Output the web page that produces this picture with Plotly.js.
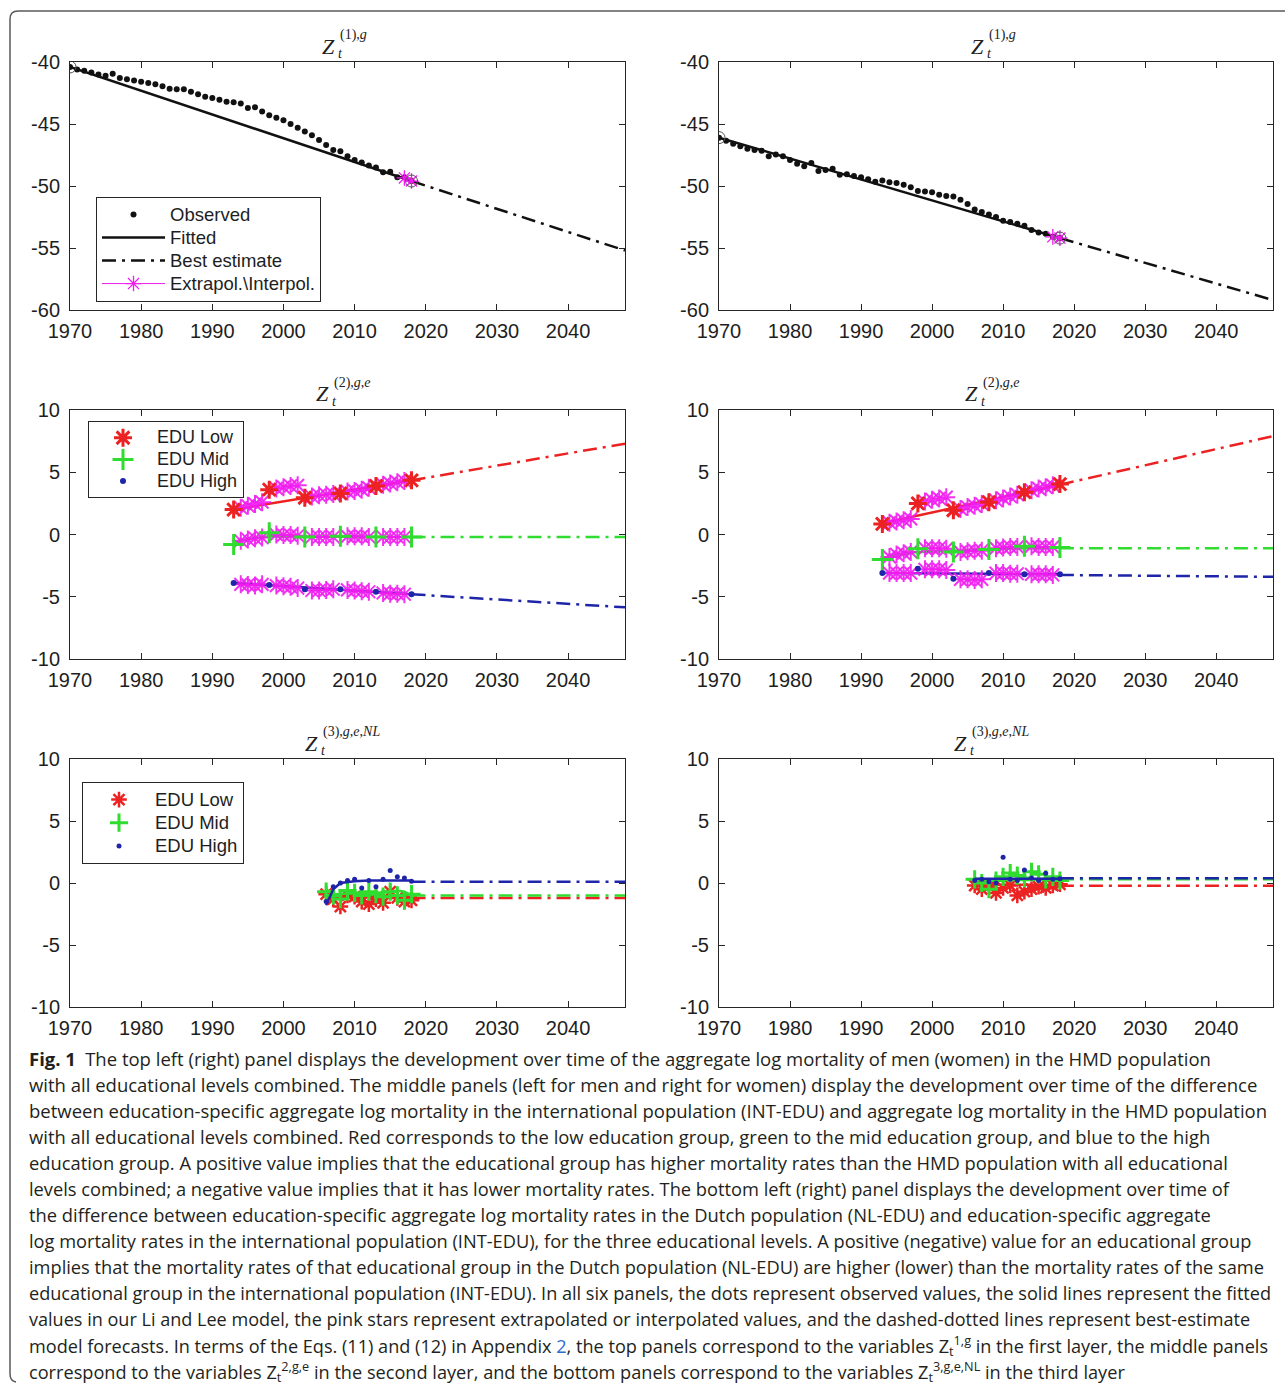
<!DOCTYPE html>
<html><head><meta charset="utf-8">
<script src="https://cdn.plot.ly/plotly-3.0.1.min.js"></script>
<style>html,body{margin:0;padding:0;background:#fff;} #chart{width:1285px;height:1395px;}</style>
</head><body><div id="chart"></div>
<script>
// ---------------- DATA ----------------
const yearsTop = [1970,1971,1972,1973,1974,1975,1976,1977,1978,1979,1980,1981,1982,1983,1984,1985,1986,1987,1988,1989,1990,1991,1992,1993,1994,1995,1996,1997,1998,1999,2000,2001,2002,2003,2004,2005,2006,2007,2008,2009,2010,2011,2012,2013,2014,2015,2016,2017,2018];
const menObserved = [-40.4,-40.6,-40.7,-40.85,-41.0,-41.1,-40.95,-41.3,-41.4,-41.5,-41.6,-41.7,-41.8,-41.95,-42.15,-42.2,-42.2,-42.4,-42.6,-42.8,-42.9,-43.05,-43.2,-43.25,-43.35,-43.7,-43.65,-44.0,-44.3,-44.5,-44.7,-45.0,-45.3,-45.6,-45.9,-46.3,-46.7,-47.1,-47.2,-47.6,-47.9,-48.1,-48.35,-48.5,-48.9,-48.85,-49.3,-49.3,-49.6];
const womenObserved = [-46.1,-46.35,-46.6,-46.8,-47.0,-47.1,-47.15,-47.6,-47.45,-47.6,-47.9,-48.2,-48.4,-48.15,-48.8,-48.7,-48.6,-49.1,-49.05,-49.2,-49.3,-49.45,-49.65,-49.55,-49.7,-49.75,-49.9,-50.1,-50.4,-50.45,-50.5,-50.7,-50.8,-50.85,-51.1,-51.45,-51.9,-52.1,-52.3,-52.5,-52.8,-52.9,-53.05,-53.2,-53.55,-53.75,-53.85,-54.1,-54.2];
const fitYearsTop = [1970, 2018];
const menFitted = [-40.4, -49.6];
const womenFitted = [-46.1, -54.2];
const bestYears = [2018, 2048];
const menBest = [-49.6, -55.2];
const womenBest = [-54.2, -59.2];
const extrapYearsTop = [2017, 2018];
const menExtrap = [-49.35, -49.6];
const womenExtrap = [-54.1, -54.2];
const anchorYears = [1970, 2018];
const menAnchor = [-40.4, -49.6];
const womenAnchor = [-46.1, -54.2];

// middle layer (Z2): observed every 5 years, interpolated in between
const obsYearsMid = [1993,1998,2003,2008,2013,2018];
const interpYearsMid = [1994,1995,1996,1997,1999,2000,2001,2002,2004,2005,2006,2007,2009,2010,2011,2012,2014,2015,2016,2017];
const menLowObs = [2.0,3.6,2.95,3.3,3.9,4.35];
const menLowInterp = [2.15,2.3,2.45,2.6,3.7,3.8,3.9,3.95,3.05,3.15,3.2,3.25,3.45,3.5,3.6,3.75,4.0,4.1,4.2,4.3];
const menMidObs = [-0.8,0.15,-0.2,-0.15,-0.2,-0.2];
const menMidInterp = [-0.5,-0.4,-0.3,-0.25,0.0,-0.05,-0.05,-0.1,-0.2,-0.2,-0.2,-0.2,-0.15,-0.15,-0.15,-0.2,-0.2,-0.2,-0.2,-0.2];
const menHighObs = [-3.9,-4.05,-4.4,-4.4,-4.6,-4.8];
const menHighInterp = [-4.0,-4.05,-4.1,-4.0,-4.1,-4.15,-4.2,-4.3,-4.5,-4.5,-4.45,-4.4,-4.45,-4.5,-4.55,-4.6,-4.7,-4.75,-4.75,-4.8];
const womenLowObs = [0.85,2.5,1.95,2.6,3.4,4.05];
const womenLowInterp = [0.95,1.05,1.15,1.25,2.65,2.8,2.9,3.0,2.05,2.2,2.3,2.45,2.75,2.9,3.05,3.2,3.55,3.7,3.8,3.95];
const womenMidObs = [-2.0,-1.15,-1.4,-1.2,-0.95,-1.05];
const womenMidInterp = [-1.8,-1.6,-1.5,-1.4,-1.1,-1.1,-1.1,-1.15,-1.4,-1.35,-1.3,-1.3,-1.1,-1.05,-1.0,-1.0,-0.95,-1.0,-1.0,-1.0];
const womenHighObs = [-3.1,-2.75,-3.55,-3.1,-3.2,-3.2];
const womenHighInterp = [-3.1,-3.1,-3.1,-3.1,-2.8,-2.8,-2.8,-2.85,-3.6,-3.6,-3.65,-3.6,-3.1,-3.1,-3.15,-3.15,-3.2,-3.2,-3.2,-3.25];
// fitted (solid) lines, middle layer
const fitYearsMidLine = [1993, 2018];
const menLowFitted = [2.0, 4.35];
const menHighFitted = [-3.9, -4.8];
const menMidFitYears = [1993, 1995, 1998, 2018];
const menMidFitted = [-0.7, -0.35, -0.15, -0.2];
const womenLowFitted = [0.9, 4.0];
const womenHighFitted = [-3.1, -3.2];
const womenMidFitYears = [1993, 1997, 2003, 2010, 2018];
const womenMidFitted = [-1.9, -1.45, -1.3, -1.15, -1.05];
// best-estimate forecasts, middle layer
const menLowBest = [4.35, 7.3];
const menMidBest = [-0.2, -0.2];
const menHighBest = [-4.8, -5.85];
const womenLowBest = [4.0, 7.9];
const womenMidBest = [-1.1, -1.1];
const womenHighBest = [-3.25, -3.4];

// bottom layer (Z3, NL)
const yearsBottom = [2006,2007,2008,2009,2010,2011,2012,2013,2014,2015,2016,2017,2018];
const menLowNL = [-0.9,-1.3,-1.9,-1.0,-1.1,-1.5,-1.7,-1.3,-1.6,-0.7,-1.2,-1.5,-1.4];
const menMidNL = [-0.7,-1.0,-1.3,-0.6,-0.8,-1.0,-0.7,-0.9,-1.1,-0.7,-1.0,-1.4,-0.9];
const menHighNL = [-1.5,-0.3,0.0,0.2,0.3,-0.4,0.2,-0.3,0.3,1.0,0.5,0.4,0.15];
const menLowNLFitYears = [2006, 2018];
const menLowNLFitted = [-1.15, -1.15];
const menMidNLFitYears = [2006, 2007, 2009, 2015, 2016, 2017, 2018];
const menMidNLFitted = [-0.5, -0.9, -0.85, -0.75, -0.6, -0.7, -1.0];
const menHighNLFitYears = [2006, 2006.5, 2007, 2008, 2009, 2010, 2012, 2018];
const menHighNLFitted = [-1.8, -1.2, -0.5, 0.0, 0.1, 0.15, 0.2, 0.2];
const menLowNLBest = [-1.2, -1.2];
const menMidNLBest = [-1.0, -1.0];
const menHighNLBest = [0.1, 0.1];
const womenLowNL = [-0.2,-0.5,-0.3,-0.8,-0.4,-0.2,-1.0,-0.7,-0.5,-0.3,-0.4,-0.2,-0.1];
const womenMidNL = [0.3,0.0,-0.5,0.2,0.5,0.8,0.6,0.4,0.9,0.7,0.3,0.5,0.2];
const womenHighNL = [0.2,0.3,0.1,0.0,2.07,0.3,0.2,1.05,0.4,0.2,0.78,0.3,0.35];
const womenNLFitYears = [2006, 2018];
const womenLowNLFitted = [-0.15, -0.15];
const womenMidNLFitted = [0.25, 0.25];
const womenHighNLFitted = [0.35, 0.35];
const womenLowNLBest = [-0.22, -0.22];
const womenMidNLBest = [0.3, 0.3];
const womenHighNLBest = [0.38, 0.38];

const xTickVals = [1970,1980,1990,2000,2010,2020,2030,2040];
const yTickTop = [-60,-55,-50,-45,-40];
const yTickLow = [-10,-5,0,5,10];
const seriesNames = ['EDU Low','EDU Mid','EDU High'];
const topLegendNames = ['Observed','Fitted','Best estimate','Extrapol.\\Interpol.'];

// ---------------- STYLE ----------------
const W = 1285, H = 1395;
const px = x => x / W;
const py = y => 1 - y / H;
const RED = '#ec2222', GREEN = '#2fdc2f', BLUE = '#1f25a8', MAG = '#f01cf0', BLK = '#111111';
const DASHDOT = '14px,6px,3px,6px';
const AX = '#262626';
const tickFont = {family: '"Liberation Sans", Arial, sans-serif', size: 20, color: '#1e1e1e'};
const legName = (s, fs) => '<span style="font-size:' + fs + 'px">' + s + '</span>';

const traces = [];
function ax(i) { return i === 1 ? ['x', 'y'] : ['x' + i, 'y' + i]; }
function add(i, t) { const a = ax(i); t.xaxis = a[0]; t.yaxis = a[1]; if (t.showlegend === undefined) t.showlegend = false; t.hoverinfo = 'skip'; traces.push(t); }

// top panels
[[1, menObserved, menFitted, menBest, menExtrap, menAnchor, true], [2, womenObserved, womenFitted, womenBest, womenExtrap, womenAnchor, false]].forEach(p => {
  const [i, obs, fit, best, ext, anc, leg] = p;
  add(i, {x: yearsTop, y: obs, mode: 'markers', name: legName(topLegendNames[0], 18.5), showlegend: leg, legend: 'legend', marker: {symbol: 'circle', size: 6, color: BLK}});
  add(i, {x: fitYearsTop, y: fit, mode: 'lines', name: legName(topLegendNames[1], 18.5), showlegend: leg, legend: 'legend', line: {color: BLK, width: 2.5}});
  add(i, {x: bestYears, y: best, mode: 'lines', name: legName(topLegendNames[2], 18.5), showlegend: leg, legend: 'legend', line: {color: BLK, width: 2.5, dash: DASHDOT}});
  add(i, {x: extrapYearsTop, y: ext, mode: 'lines+markers', name: legName(topLegendNames[3], 18.5), showlegend: leg, legend: 'legend', line: {color: MAG, width: 1}, marker: {symbol: 'asterisk-open', size: 13, color: MAG, line: {width: 1.3, color: MAG}}});
  add(i, {x: anchorYears, y: anc, mode: 'markers', marker: {symbol: 'circle-open', size: 12, color: '#555', line: {width: 1, color: '#555'}}});
});

// middle panels
function midGroup(i, color, sym, size, lw, obs, interp, fitX, fit, best, name, leg) {
  add(i, {x: fitX, y: fit, mode: 'lines', line: {color: color, width: 2.5}});
  add(i, {x: bestYears, y: best, mode: 'lines', line: {color: color, width: 2.5, dash: DASHDOT}});
  add(i, {x: interpYearsMid, y: interp, mode: 'markers', marker: {symbol: 'asterisk-open', size: 15, color: MAG, line: {width: 2, color: MAG}, opacity: 0.9}});
  add(i, {x: obsYearsMid, y: obs, mode: 'markers', name: legName(name, 18), showlegend: leg, legend: 'legend2', marker: {symbol: sym, size: size, color: color, line: {width: lw, color: color}}});
}
midGroup(3, RED, 'asterisk-open', 15, 3, menLowObs, menLowInterp, fitYearsMidLine, menLowFitted, menLowBest, seriesNames[0], true);
midGroup(3, GREEN, 'cross-thin-open', 15, 3, menMidObs, menMidInterp, menMidFitYears, menMidFitted, menMidBest, seriesNames[1], true);
midGroup(3, BLUE, 'circle', 6, 0, menHighObs, menHighInterp, fitYearsMidLine, menHighFitted, menHighBest, seriesNames[2], true);
midGroup(4, RED, 'asterisk-open', 15, 3, womenLowObs, womenLowInterp, fitYearsMidLine, womenLowFitted, womenLowBest, seriesNames[0], false);
midGroup(4, GREEN, 'cross-thin-open', 15, 3, womenMidObs, womenMidInterp, womenMidFitYears, womenMidFitted, womenMidBest, seriesNames[1], false);
midGroup(4, BLUE, 'circle', 6, 0, womenHighObs, womenHighInterp, fitYearsMidLine, womenHighFitted, womenHighBest, seriesNames[2], false);

// bottom panels
function botGroup(i, color, sym, size, lw, obs, fitX, fit, best, name, leg) {
  add(i, {x: yearsBottom, y: obs, mode: 'markers', name: legName(name, 18.5), showlegend: leg, legend: 'legend3', marker: {symbol: sym, size: size, color: color, line: {width: lw, color: color}}});
  add(i, {x: fitX, y: fit, mode: 'lines', line: {color: color, width: 2.5}});
  add(i, {x: bestYears, y: best, mode: 'lines', line: {color: color, width: 2.5, dash: DASHDOT}});
}
botGroup(5, RED, 'asterisk-open', 13, 2.5, menLowNL, menLowNLFitYears, menLowNLFitted, menLowNLBest, seriesNames[0], true);
botGroup(5, GREEN, 'cross-thin-open', 13, 3, menMidNL, menMidNLFitYears, menMidNLFitted, menMidNLBest, seriesNames[1], true);
botGroup(5, BLUE, 'circle', 5, 0, menHighNL, menHighNLFitYears, menHighNLFitted, menHighNLBest, seriesNames[2], true);
botGroup(6, RED, 'asterisk-open', 13, 2.5, womenLowNL, womenNLFitYears, womenLowNLFitted, womenLowNLBest, seriesNames[0], false);
botGroup(6, GREEN, 'cross-thin-open', 13, 3, womenMidNL, womenNLFitYears, womenMidNLFitted, womenMidNLBest, seriesNames[1], false);
botGroup(6, BLUE, 'circle', 5, 0, womenHighNL, womenNLFitYears, womenHighNLFitted, womenHighNLBest, seriesNames[2], false);

// ---------------- LAYOUT ----------------
const colX = [[70, 625], [719, 1273]];
const rowY = [[62, 310], [410, 659], [759, 1007]];
const layout = {width: W, height: H, margin: {l: 0, r: 0, t: 0, b: 0}, paper_bgcolor: '#fff', plot_bgcolor: '#fff', showlegend: true, annotations: [], shapes: []};
for (let r = 0; r < 3; r++) for (let c = 0; c < 2; c++) {
  const i = r * 2 + c + 1;
  const xk = i === 1 ? 'xaxis' : 'xaxis' + i, yk = i === 1 ? 'yaxis' : 'yaxis' + i;
  const common = {showline: true, linecolor: AX, linewidth: 1, mirror: 'ticks', ticks: 'inside', ticklen: 6, tickwidth: 1, tickcolor: AX, showgrid: false, zeroline: false, tickfont: tickFont, fixedrange: true};
  const yt = r === 0 ? yTickTop : yTickLow;
  layout[xk] = Object.assign({}, common, {domain: [px(colX[c][0]), px(colX[c][1])], range: [1970, 2048], tickvals: xTickVals, ticktext: xTickVals.map(String), anchor: i === 1 ? 'y' : 'y' + i, ticklabelstandoff: 3});
  layout[yk] = Object.assign({}, common, {domain: [py(rowY[r][1]), py(rowY[r][0])], range: r === 0 ? [-60, -40] : [-10, 10], tickvals: yt, ticktext: yt.map(String), anchor: i === 1 ? 'x' : 'x' + i, ticklabelstandoff: 5});
}
const legCommon = {xref: 'paper', yref: 'paper', xanchor: 'left', yanchor: 'top', bgcolor: '#fff', bordercolor: AX, borderwidth: 1, tracegroupgap: 0};
layout.legend = Object.assign({}, legCommon, {x: px(96), y: py(197), itemwidth: 63, font: {family: '"Liberation Sans", Arial, sans-serif', size: 15.4, color: '#1e1e1e'}});
layout.legend2 = Object.assign({}, legCommon, {x: px(88), y: py(421), itemwidth: 58, font: {family: '"Liberation Sans", Arial, sans-serif', size: 14.3, color: '#1e1e1e'}});
layout.legend3 = Object.assign({}, legCommon, {x: px(82), y: py(782), itemwidth: 62, font: {family: '"Liberation Sans", Arial, sans-serif', size: 15.5, color: '#1e1e1e'}});

// panel titles  Z_t^{...}
function addTitle(zRight, yc, sup) {
  const fam = '"Liberation Serif", "DejaVu Serif", serif';
  layout.annotations.push({xref: 'paper', yref: 'paper', x: px(zRight), y: py(yc), xanchor: 'right', yanchor: 'middle', showarrow: false, text: '<i>Z</i>', font: {family: fam, size: 22, color: '#222'}});
  layout.annotations.push({xref: 'paper', yref: 'paper', x: px(zRight - 1), y: py(yc + 7), xanchor: 'left', yanchor: 'middle', showarrow: false, text: '<i>t</i>', font: {family: fam, size: 14, color: '#222'}});
  layout.annotations.push({xref: 'paper', yref: 'paper', x: px(zRight + 1), y: py(yc - 11), xanchor: 'left', yanchor: 'middle', showarrow: false, text: sup, font: {family: fam, size: 14, color: '#222'}});
}
const sups = ['(1),<i>g</i>', '(2),<i>g</i>,<i>e</i>', '(3),<i>g</i>,<i>e</i>,<i>NL</i>'];
const zRights = [337, 331, 320];
const zY = [46, 394, 743];
for (let r = 0; r < 3; r++) { addTitle(zRights[r], zY[r], sups[r]); addTitle(zRights[r] + 649, zY[r], sups[r]); }

// caption
const capLines = [
  '<b>Fig. 1</b>\u2002The top left (right) panel displays the development over time of the aggregate log mortality of men (women) in the HMD population',
  'with all educational levels combined. The middle panels (left for men and right for women) display the development over time of the difference',
  'between education-specific aggregate log mortality in the international population (INT-EDU) and aggregate log mortality in the HMD population',
  'with all educational levels combined. Red corresponds to the low education group, green to the mid education group, and blue to the high',
  'education group. A positive value implies that the educational group has higher mortality rates than the HMD population with all educational',
  'levels combined; a negative value implies that it has lower mortality rates. The bottom left (right) panel displays the development over time of',
  'the difference between education-specific aggregate log mortality rates in the Dutch population (NL-EDU) and education-specific aggregate',
  'log mortality rates in the international population (INT-EDU), for the three educational levels. A positive (negative) value for an educational group',
  'implies that the mortality rates of that educational group in the Dutch population (NL-EDU) are higher (lower) than the mortality rates of the same',
  'educational group in the international population (INT-EDU). In all six panels, the dots represent observed values, the solid lines represent the fitted',
  'values in our Li and Lee model, the pink stars represent extrapolated or interpolated values, and the dashed-dotted lines represent best-estimate',
  'model forecasts. In terms of the Eqs. (11) and (12) in Appendix <span style="color:#2d6bd0">2</span>, the top panels correspond to the variables Z<sub>t</sub><sup>1,g</sup> in the first layer, the middle panels',
  'correspond to the variables Z<sub>t</sub><sup>2,g,e</sup> in the second layer, and the bottom panels correspond to the variables Z<sub>t</sub><sup>3,g,e,NL</sup> in the third layer'
];
const capEnds = [1213, 1272, 1266, 1209, 1227, 1228, 1210, 1250, 1263, 1270, 1249, 1267, 1123];
const capFam = '"Open Sans", "Noto Sans", sans-serif';
const ctx = document.createElement('canvas').getContext('2d');
function measureLine(html, size) {
  let total = 0, bold = false, small = false;
  html.split(/(<[^>]+>)/).forEach(p => {
    if (!p) return;
    if (p[0] === '<') {
      if (p === '<b>') bold = true; else if (p === '</b>') bold = false;
      else if (p === '<sub>' || p === '<sup>') small = true; else if (p === '</sub>' || p === '</sup>') small = false;
      return;
    }
    ctx.font = (bold ? 'bold ' : '') + (small ? size * 0.7 : size) + 'px "Open Sans"';
    total += ctx.measureText(p).width;
  });
  return total;
}
capLines.forEach((t, k) => {
  let s = 18 * (capEnds[k] - 27) / measureLine(t, 18);
  s = Math.max(14, Math.min(18.5, s));
  layout.annotations.push({xref: 'paper', yref: 'paper', x: px(27), y: py(1058.3 + 26.1 * k), xanchor: 'left', yanchor: 'middle', showarrow: false, align: 'left', text: t, font: {family: capFam, size: s, color: '#231f20'}});
});

// outer frame
layout.shapes.push({type: 'path', xref: 'paper', yref: 'paper', layer: 'below', line: {color: '#5a5a5a', width: 1.5},
  path: `M ${px(16)},${py(1382)} Q ${px(10)},${py(1381)} ${px(10)},${py(1374)} L ${px(10)},${py(19)} Q ${px(10)},${py(11)} ${px(18)},${py(11)} L ${px(1290)},${py(11)}`});

Plotly.newPlot('chart', traces, layout, {staticPlot: true, displayModeBar: false});
</script></body></html>
